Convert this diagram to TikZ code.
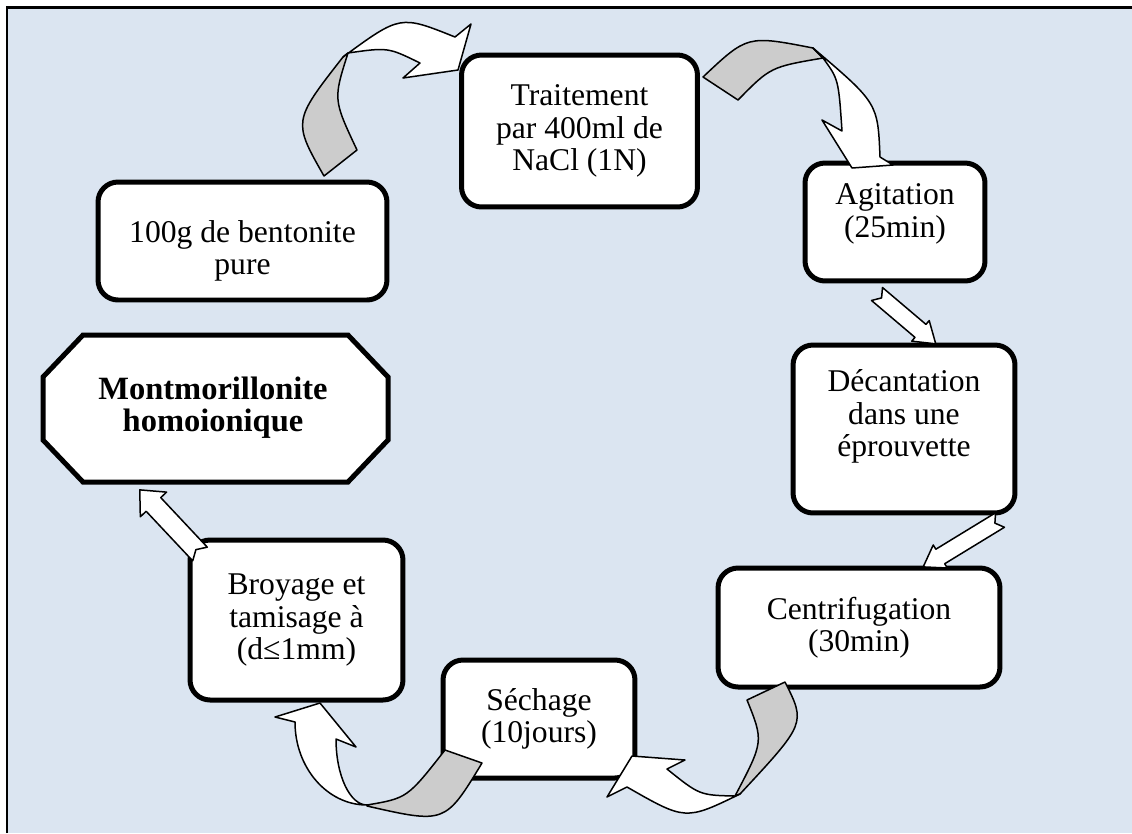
\documentclass[tikz,border=0pt]{standalone}
\usepackage{fontspec}
\setmainfont{Liberation Serif}
\definecolor{panel}{RGB}{219,229,241}
\definecolor{fold}{RGB}{204,204,204}

% straight block arrow: tail point, angle, length, shaft and head half widths (pixel units)
\newcommand{\blockarrow}[5]{%
  \begin{scope}[shift={(#1)}, rotate=#2]
    \draw[flat] (0,#4) -- ({#3-20},#4) -- ({#3-20},#5) -- (#3,0)
      -- ({#3-20},-#5) -- ({#3-20},-#4) -- (0,-#4) -- (6,0) -- cycle;
  \end{scope}}
% push a text block down (first line) or up (last line)
\newcommand{\pushdown}[1]{\rule{0pt}{#1}}
\newcommand{\pushup}[1]{\rule[-#1]{0pt}{0pt}}

\begin{document}
\begin{tikzpicture}[x=0.02cm, y=-0.02cm,
  stepbox/.style={draw, line width=0.1cm, rounded corners=0.4cm, fill=white,
                  align=center, font=\fontsize{18}{18.5}\selectfont, inner sep=2pt},
  endtext/.style={align=center, font=\fontsize{18.5}{18.5}\selectfont\bfseries},
  endline/.style={draw, line width=0.1cm, fill=white, line join=miter},
  flat/.style={draw, line width=0.03cm, fill=white, line join=round},
  back/.style={flat, fill=fold}
]
\useasboundingbox (0,0) rectangle (1132,833);
\fill[panel] (7,7) rectangle (1132,833);
\draw[line width=0.06cm] (7,833) -- (7,7) -- (1132,7);

% process steps
\node[stepbox, minimum width=4.72cm, minimum height=3.04cm] (treat) at (579.5,131) {Traitement\\par 400ml de\\NaCl (1N)};
\node[stepbox, minimum width=5.78cm, minimum height=2.36cm] (bento) at (242.5,241) {\pushdown{24pt}100g de bentonite\\pure};
\node[stepbox, minimum width=3.6cm, minimum height=2.36cm] (agit) at (895,222) {Agitation\\(25min)\pushup{13pt}};
\node[stepbox, minimum width=4.44cm, minimum height=3.36cm] (decant) at (904,429) {Décantation\\dans une\\éprouvette\pushup{18pt}};
\node[stepbox, minimum width=5.64cm, minimum height=2.38cm] (centri) at (859,627.5) {Centrifugation\\(30min)};
\node[stepbox, minimum width=3.84cm, minimum height=2.36cm] (dry) at (539,719) {Séchage\\(10jours)};
\node[stepbox, minimum width=4.26cm, minimum height=3.2cm] (grind) at (296.5,620) {Broyage et\\tamisage à\\(d≤1mm)};

% end product, octagon
\draw[endline] (83,335) -- (348,335) -- (388,377) -- (388,440) -- (348,482)
  -- (83,482) -- (43,440) -- (43,377) -- cycle;
\node[endtext] (mont) at (213,407.5) {Montmorillonite\\homoionique};

% curved arrows
% bento -> treat
\draw[back] (324,176) -- (357,150) .. controls (333.2,99.5) .. (348,53)
  -- (343,57) .. controls (292.8,121.2) .. cycle;
\draw[flat] (343,57) .. controls (400.3,15) .. (455,37) -- (471,24) -- (458,70)
  -- (403,78) -- (420,63) .. controls (388,47.3) .. (348,53) -- cycle;
% treat -> agit
\draw[back] (703,77) -- (738,100) .. controls (770.5,67) .. (823,58)
  -- (813,48) .. controls (747.3,35.2) .. cycle;
\draw[flat] (813,48) .. controls (877.8,103.1) .. (880,157) -- (893,165) -- (852,168)
  -- (822,120) -- (842,131) .. controls (838.5,79.2) .. (823,58) -- cycle;
% centri -> dry
\draw[back] (747,700) -- (785,682) .. controls (805.8,723.3) .. (740,794)
  -- (735,796) .. controls (763.7,741.4) .. cycle;
\draw[flat] (740,794) .. controls (685.5,820.5) .. (627,787) -- (607,797) -- (632,756)
  -- (685,760) -- (667,769) .. controls (699.6,795.2) .. (735,796) -- cycle;
% dry -> grind
\draw[back] (445,750) -- (482,763) .. controls (445.2,823.8) .. (367,806)
  -- (367,805) .. controls (407.3,798.1) .. cycle;
\draw[flat] (367,805) .. controls (327.3,805) and (295,767.8) .. (295,722) -- (275,717)
  -- (320,703) -- (356,747) -- (336,739) .. controls (336,775.4) and (349.9,805) .. cycle;

% straight arrows
\blockarrow{877,294}{-40.3}{77}{8.5}{13.5}
\blockarrow{1000,520}{-148.6}{90}{8.5}{13.5}
\blockarrow{200,554}{133.2}{88}{10}{18}
\end{tikzpicture}
\end{document}
